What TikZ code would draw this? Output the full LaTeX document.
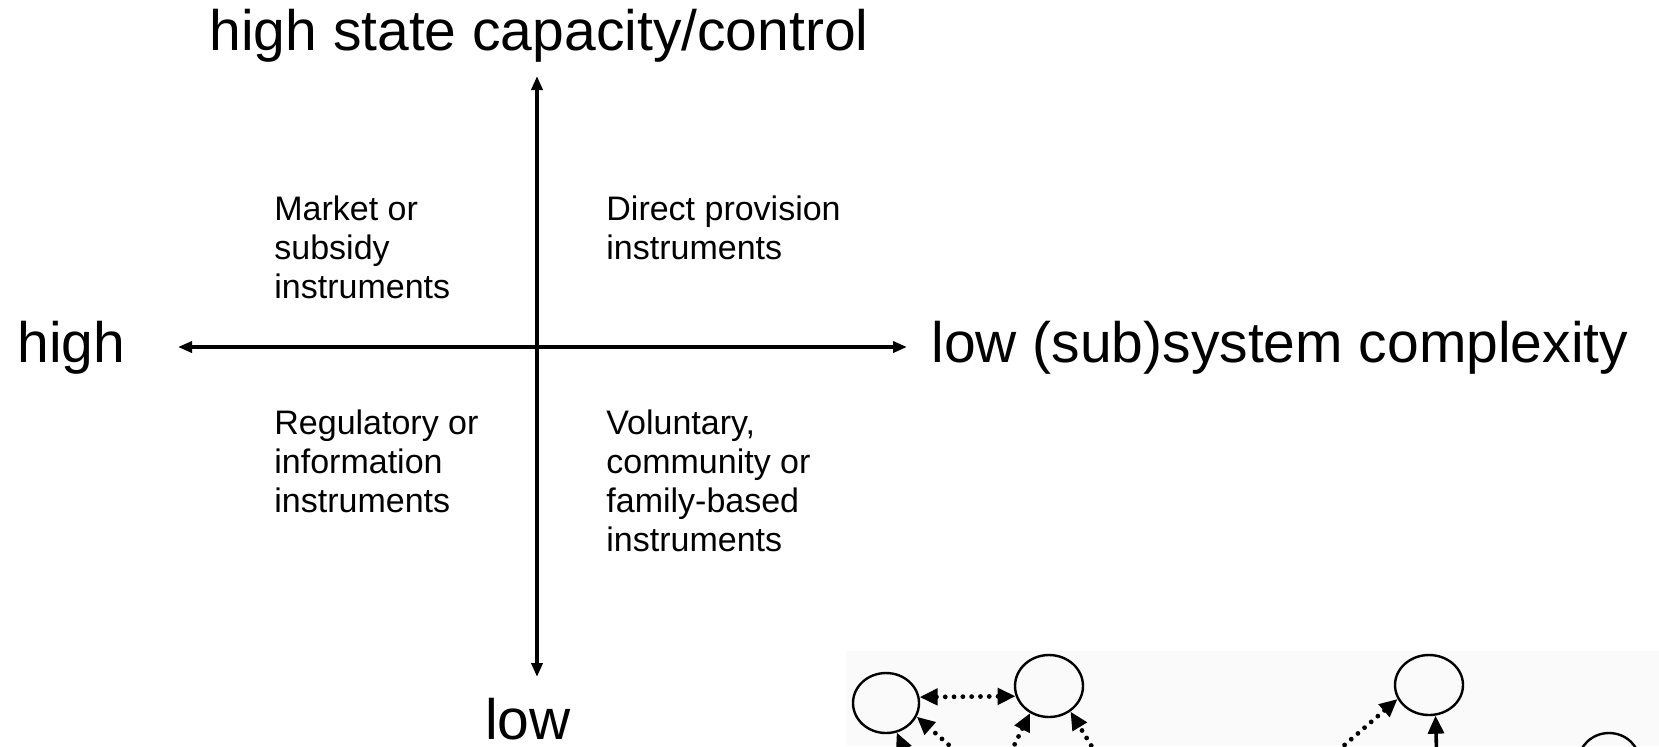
\documentclass[tikz,border=0pt]{standalone}
\usepackage{fontspec}
\setmainfont{Liberation Sans}
\usetikzlibrary{arrows.meta,shapes.geometric}
\begin{document}
\begin{tikzpicture}[x=0.5pt,y=-0.5pt,
  axis/.style={line width=1.8pt,{Triangle[length=7pt,width=5.5pt]}-{Triangle[length=7pt,width=5.5pt]}},
  axisone/.style={line width=1.8pt,-{Triangle[length=7pt,width=5.5pt]}},
  biglabel/.style={font=\fontsize{28.5}{34}\selectfont,inner sep=0pt},
  quad/.style={font=\fontsize{17}{19.5}\selectfont,align=left,inner sep=0pt,anchor=north west},
  agent/.style={draw,ellipse,line width=1.2pt,inner sep=0pt},
  dotarrow/.style={line width=2.4pt,line cap=round,dash pattern=on 0pt off 4.4pt,-{Triangle[length=9pt,width=8pt]}},
  dotboth/.style={line width=2.4pt,line cap=round,dash pattern=on 0pt off 4.4pt,{Triangle[length=9pt,width=8pt]}-{Triangle[length=9pt,width=8pt]}},
  solidarrow/.style={line width=1.8pt,-{Triangle[length=9pt,width=8pt]}}]
\useasboundingbox (0,0) rectangle (1659,746);
\clip (0,0) rectangle (1659,746);
% faint scanned background of the network fragment
\fill[black!2] (846,651) rectangle (1659,746);
% axes
\coordinate (O) at (537,347);
\coordinate (T) at (537,76);
\coordinate (B) at (537,677);
\coordinate (L) at (178,347);
\coordinate (R) at (907,347);
\draw[axisone] (O) -- (T);
\draw[axisone] (O) -- (B);
\draw[axis] (L) -- (R);
% axis labels
\node[biglabel,anchor=base] (top) at (539,50) {high state capacity/control};
\node[biglabel,anchor=base west] (left) at (17,362) {high};
\node[biglabel,anchor=base west] (right) at (931,362) {low (sub)system complexity};
\node[biglabel,anchor=base] (bottom) at (528,739) {low};
% quadrant texts
\node[quad] (q1) at (274,195) {Market or\\subsidy\\instruments};
\node[quad] (q2) at (606,195) {Direct provision\\instruments};
\node[quad] (q3) at (274,409) {Regulatory or\\information\\instruments};
\node[quad] (q4) at (606,409) {Voluntary,\\community or\\family-based\\instruments};
% network fragment
\node[agent,minimum width=33pt,minimum height=30pt] (A) at (886,703) {};
\node[agent,minimum width=34pt,minimum height=31pt] (Bn) at (1049,686) {};
\node[agent,minimum width=34pt,minimum height=30pt] (C) at (1429,685) {};
\node[agent,minimum width=31pt,minimum height=30pt] (D) at (1609,763) {};
\coordinate (t1) at (975,768);
\coordinate (t2) at (912,768);
\coordinate (t3) at (1003,768);
\coordinate (t4) at (1105,768);
\coordinate (t5) at (1318,768);
\coordinate (t6) at (1437,768);
\draw[dotboth] (A.10) -- (Bn.197);
\draw[dotarrow] (t1) -- (A.-24);
\draw[solidarrow] (t2) -- (A.-70);
\draw[dotarrow] (t3) -- (Bn.-125);
\draw[dotarrow] (t4) -- (Bn.-50);
\draw[dotarrow] (t5) -- (C.-156);
\draw[solidarrow] (t6) -- (C.-78);
\end{tikzpicture}
\end{document}
